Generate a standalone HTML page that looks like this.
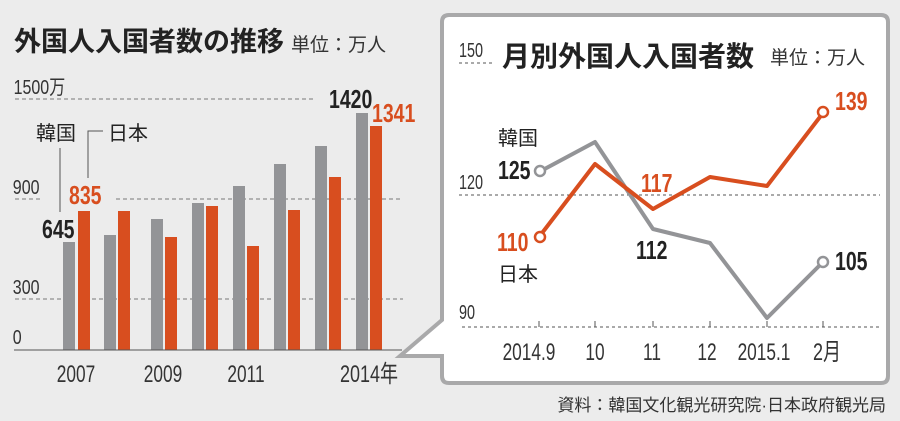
<!DOCTYPE html>
<html><head><meta charset="utf-8"><style>
body{margin:0;background:#ececec;}
svg{display:block}
text{font-family:"Liberation Sans","Noto Sans CJK JP",sans-serif;}
.n{font-family:"Liberation Sans Narrow","Liberation Sans","Noto Sans CJK JP",sans-serif;}
</style></head><body>
<svg width="900" height="421" viewBox="0 0 900 421" xmlns="http://www.w3.org/2000/svg">
<rect width="900" height="421" fill="#ececec"/>
<text x="14" y="51" font-size="27" font-weight="bold" fill="#222">外国人入国者数の推移</text>
<text x="291" y="51" font-size="19" fill="#333">単位：万人</text>
<!-- left grid -->
<g stroke="#777" stroke-dasharray="4,3" stroke-width="1">
<line x1="15" y1="99" x2="313" y2="99"/>
<line x1="15" y1="199" x2="41" y2="199"/>
<line x1="116" y1="199" x2="403" y2="199"/>
<line x1="15" y1="299" x2="403" y2="299"/>
</g>
<g class="n" font-size="20" fill="#333" transform="scale(0.8,1)">
<text x="17" y="94">1500万</text>
<text x="16" y="194">900</text>
<text x="16" y="294">300</text>
<text x="16" y="344">0</text>
</g>
<g fill="#939497">
<rect x="63" y="242" width="12" height="108"/>
<rect x="104" y="235" width="12" height="115"/>
<rect x="151" y="219" width="12" height="131"/>
<rect x="192" y="203" width="12" height="147"/>
<rect x="233" y="186" width="12" height="164"/>
<rect x="274" y="164" width="12" height="186"/>
<rect x="315" y="146" width="12" height="204"/>
<rect x="356" y="113" width="12" height="237"/>
</g>
<g fill="#d84e1f">
<rect x="78" y="211" width="12" height="139"/>
<rect x="118" y="211" width="12" height="139"/>
<rect x="165" y="237" width="12" height="113"/>
<rect x="206" y="206" width="12" height="144"/>
<rect x="247" y="246" width="12" height="104"/>
<rect x="288" y="210" width="12" height="140"/>
<rect x="329" y="177" width="12" height="173"/>
<rect x="370" y="126" width="12" height="224"/>
</g>
<line x1="14" y1="350" x2="402" y2="350" stroke="#555" stroke-width="1"/>
<g stroke="#555" stroke-width="1" fill="none">
<line x1="60" y1="148" x2="60" y2="212"/>
<polyline points="88,178 88,131 103,131"/>
</g>
<text x="36" y="140" font-size="20" fill="#222">韓国</text>
<text x="108" y="140" font-size="20" fill="#222">日本</text>
<g class="n" font-weight="bold" font-size="26">
<text x="42" y="238" fill="#222" transform="translate(42,0) scale(0.75,1) translate(-42,0)">645</text>
<text x="69" y="204" fill="#d84e1f" transform="translate(69,0) scale(0.75,1) translate(-69,0)">835</text>
<text x="329" y="108" fill="#222" transform="translate(329,0) scale(0.75,1) translate(-329,0)">1420</text>
<text x="372" y="122" fill="#d84e1f" transform="translate(372,0) scale(0.75,1) translate(-372,0)">1341</text>
</g>
<g font-size="24" fill="#333" class="n">
<text x="76" y="382" text-anchor="middle" transform="translate(76,0) scale(0.72,1) translate(-76,0)">2007</text>
<text x="163" y="382" text-anchor="middle" transform="translate(163,0) scale(0.72,1) translate(-163,0)">2009</text>
<text x="246" y="382" text-anchor="middle" transform="translate(246,0) scale(0.72,1) translate(-246,0)">2011</text>
<text x="369" y="382" text-anchor="middle" transform="translate(369,0) scale(0.75,1) translate(-369,0)">2014年</text>
</g>
<!-- box -->
<path d="M449,15 H881 Q888,15 888,22 V376 Q888,383 881,383 H449 Q442,383 442,376 V356 H400 L442,320 V22 Q442,15 449,15 Z" fill="#fff" stroke="#a9a9aa" stroke-width="4"/>
<g stroke="#555" stroke-dasharray="3,3" stroke-width="1">
<line x1="459" y1="63" x2="494" y2="63"/>
<line x1="459" y1="195" x2="880" y2="195"/>
<line x1="462" y1="327" x2="882" y2="327"/>
</g>
<g stroke="#555" stroke-width="1">
<line x1="539" y1="321" x2="539" y2="327"/><line x1="595" y1="321" x2="595" y2="327"/>
<line x1="653" y1="321" x2="653" y2="327"/><line x1="710" y1="321" x2="710" y2="327"/>
<line x1="767" y1="321" x2="767" y2="327"/><line x1="823" y1="321" x2="823" y2="327"/>
</g>
<g class="n" font-size="20" fill="#333">
<text x="459" y="57" transform="translate(459,0) scale(0.72,1) translate(-459,0)">150</text>
<text x="459" y="189" transform="translate(459,0) scale(0.72,1) translate(-459,0)">120</text>
<text x="459" y="319" transform="translate(459,0) scale(0.72,1) translate(-459,0)">90</text>
</g>
<text x="502" y="66" font-size="28" font-weight="bold" fill="#222">月別外国人入国者数</text>
<text x="770" y="64" font-size="19" fill="#333">単位：万人</text>
<polyline points="539,172 595,142 653,229 710,243 767,318 823,262" fill="none" stroke="#939497" stroke-width="4" stroke-linejoin="round"/>
<polyline points="539,237 595,164 653,209 710,177 767,186 823,113" fill="none" stroke="#d84e1f" stroke-width="4" stroke-linejoin="round"/>
<circle cx="540" cy="171" r="5" fill="#fff" stroke="#939497" stroke-width="2.5"/>
<circle cx="823" cy="262" r="5" fill="#fff" stroke="#939497" stroke-width="2.5"/>
<circle cx="540" cy="237" r="5" fill="#fff" stroke="#d84e1f" stroke-width="2.5"/>
<circle cx="823" cy="112" r="5" fill="#fff" stroke="#d84e1f" stroke-width="2.5"/>
<text x="498" y="145" font-size="20" fill="#222">韓国</text>
<text x="498" y="281" font-size="20" fill="#222">日本</text>
<g class="n" font-weight="bold" font-size="26">
<text x="498" y="179" fill="#222" transform="translate(498,0) scale(0.75,1) translate(-498,0)">125</text>
<text x="497" y="251" fill="#d84e1f" transform="translate(497,0) scale(0.75,1) translate(-497,0)">110</text>
<text x="641" y="192" fill="#d84e1f" transform="translate(641,0) scale(0.75,1) translate(-641,0)">117</text>
<text x="636" y="259" fill="#222" transform="translate(636,0) scale(0.75,1) translate(-636,0)">112</text>
<text x="835" y="110" fill="#d84e1f" transform="translate(835,0) scale(0.75,1) translate(-835,0)">139</text>
<text x="835" y="270" fill="#222" transform="translate(835,0) scale(0.75,1) translate(-835,0)">105</text>
</g>
<g class="n" font-size="24" fill="#333">
<text x="529" y="360" text-anchor="middle" transform="translate(529,0) scale(0.72,1) translate(-529,0)">2014.9</text>
<text x="595" y="360" text-anchor="middle" transform="translate(595,0) scale(0.72,1) translate(-595,0)">10</text>
<text x="652" y="360" text-anchor="middle" transform="translate(652,0) scale(0.72,1) translate(-652,0)">11</text>
<text x="707" y="360" text-anchor="middle" transform="translate(707,0) scale(0.72,1) translate(-707,0)">12</text>
<text x="764" y="360" text-anchor="middle" transform="translate(764,0) scale(0.72,1) translate(-764,0)">2015.1</text>
<text x="827" y="360" text-anchor="middle" transform="translate(827,0) scale(0.75,1) translate(-827,0)">2月</text>
</g>
<text x="886" y="411" text-anchor="end" font-size="17" fill="#333">資料：韓国文化観光研究院·日本政府観光局</text>
</svg>
</body></html>
